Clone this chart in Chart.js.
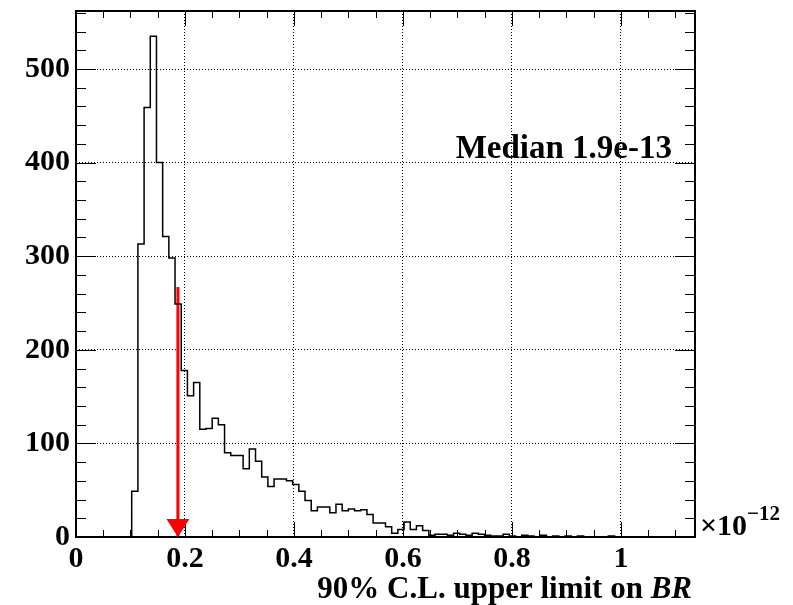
<!DOCTYPE html>
<html><head><meta charset="utf-8">
<script src="https://cdn.jsdelivr.net/npm/chart.js@4.4.0/dist/chart.umd.min.js"></script>
<style>html,body{margin:0;padding:0;background:#fff}canvas{display:block}</style>
</head><body>
<canvas id="c" width="793" height="605"></canvas>
<script>
// ---- data ----
const binLow = 0;
const binWidth = 0.01136;
const counts = [
  0, 0, 0, 0, 0, 0, 0, 0, 0, 49,
  313, 459, 535, 400, 321, 298, 249, 178, 151, 165,
  115, 116, 127, 120, 90, 87, 87, 73, 94, 81,
  64, 54, 62, 62, 60, 56, 49, 39, 28, 32,
  32, 26, 35, 28, 30, 28, 29, 24, 15, 15,
  11, 4, 8, 16, 8, 12, 7, 2, 3, 3,
  2, 4, 3, 2, 4, 3, 2, 1, 1, 3,
  1, 0, 2, 1, 0, 2, 0, 1, 0, 1,
  0, 1, 0, 0, 0, 0, 1, 0, 0, 0,
  0, 0, 0, 0, 0, 0, 0, 0, 0, 0
];
const xTickValues = [0, 0.2, 0.4, 0.6, 0.8, 1];
const xTickLabels = ['0', '0.2', '0.4', '0.6', '0.8', '1'];
const yTickValues = [0, 100, 200, 300, 400, 500];
const yTickLabels = ['0', '100', '200', '300', '400', '500'];
const xMin = 0, xMax = 1.136;
const yMin = 0, yMax = 562;
const xMinorStep = 0.05;
const yMinorStep = 20;
const medianValue = 0.187;
const arrowTopValue = 267;
const medianText = 'Median 1.9e-13';
const xTitleMain = '90% C.L. upper limit on ';
const xTitleItalic = 'BR';
const exponentBase = '\u00d710';
const exponentPower = '\u221212';

// ---- histogram outline: left edge of each bin, then closing right edge ----
const histPoints = counts.map((c, i) => ({ x: binLow + i * binWidth, y: c }));
histPoints.push({ x: binLow + counts.length * binWidth, y: 0 });

const FONT = '"Liberation Serif", "Times New Roman", serif';
Chart.defaults.font.family = FONT;
Chart.defaults.font.weight = 'bold';
Chart.defaults.font.size = 30;
Chart.defaults.color = '#000';

const deco = {
  id: 'deco',
  afterDatasetsDraw(chart) {
    const { ctx, chartArea: a, scales: { x, y } } = chart;
    ctx.save();
    ctx.strokeStyle = '#000';
    ctx.lineWidth = 1;
    const line = (x1, y1, x2, y2) => { ctx.beginPath(); ctx.moveTo(x1, y1); ctx.lineTo(x2, y2); ctx.stroke(); };
    // x ticks (bottom & top)
    for (let k = 0; k * xMinorStep <= xMax + 1e-9; k++) {
      const v = k * xMinorStep;
      const px = Math.round(x.getPixelForValue(v)) + 0.5;
      const major = xTickValues.some(t => Math.abs(t - v) < 1e-9);
      const L = major ? 15 : 7;
      line(px, a.bottom, px, a.bottom - L);
      line(px, a.top, px, a.top + L);
    }
    // y ticks (left & right)
    for (let k = 0; k * yMinorStep <= yMax + 1e-9; k++) {
      const v = k * yMinorStep;
      const py = Math.round(y.getPixelForValue(v)) + 0.5;
      const major = yTickValues.includes(v);
      const L = major ? 20 : 10;
      line(a.left, py, a.left + L, py);
      line(a.right, py, a.right - L, py);
    }
    // frame
    ctx.lineWidth = 2;
    ctx.strokeRect(a.left, a.top, a.right - a.left, a.bottom - a.top);

    // arrow head
    const mx = x.getPixelForValue(medianValue);
    const my = y.getPixelForValue(0);
    ctx.fillStyle = '#ff0000';
    ctx.beginPath();
    ctx.moveTo(mx - 11.5, my - 18);
    ctx.lineTo(mx + 11.5, my - 18);
    ctx.lineTo(mx, my);
    ctx.closePath();
    ctx.fill();

    // texts
    ctx.fillStyle = '#000';
    ctx.textBaseline = 'alphabetic';
    ctx.font = 'bold 33px ' + FONT;
    ctx.textAlign = 'right';
    ctx.fillText(medianText, a.right - 23, a.top + 147);

    // axis title
    ctx.font = 'bold italic 31px ' + FONT;
    const wI = ctx.measureText(xTitleItalic).width;
    ctx.fillText(xTitleItalic, a.right - 3, 598);
    ctx.font = 'bold 31px ' + FONT;
    ctx.fillText(xTitleMain, a.right - 3 - wI, 598);

    // exponent
    ctx.textAlign = 'left';
    ctx.font = 'bold 30px ' + FONT;
    ctx.fillText(exponentBase, a.right + 5, a.bottom - 2);
    const wB = ctx.measureText(exponentBase).width;
    ctx.font = 'bold 21px ' + FONT;
    ctx.fillText(exponentPower, a.right + 5 + wB, a.bottom - 17);
    ctx.restore();
  }
};

new Chart(document.getElementById('c'), {
  type: 'line',
  data: {
    datasets: [
      {
        data: histPoints,
        borderColor: '#000',
        borderWidth: 1.5,
        stepped: 'before',
        fill: false,
        pointRadius: 0
      },
      {
        data: [{ x: medianValue, y: arrowTopValue }, { x: medianValue, y: 0 }],
        borderColor: '#ff0000',
        borderWidth: 3,
        fill: false,
        pointRadius: 0
      }
    ]
  },
  options: {
    responsive: false,
    animation: false,
    devicePixelRatio: 1,
    layout: { padding: { left: 0, top: 11, right: 98, bottom: 0 } },
    plugins: { legend: { display: false }, tooltip: { enabled: false } },
    scales: {
      x: {
        type: 'linear',
        min: xMin, max: xMax,
        afterBuildTicks: s => { s.ticks = xTickValues.map(v => ({ value: v })); },
        afterFit: s => { s.height = 68; s.paddingLeft = 0; s.paddingRight = 0; },
        ticks: {
          callback: (v, i) => xTickLabels[i],
          maxRotation: 0, autoSkip: false, padding: 4,
          font: { size: 30, weight: 'bold', family: FONT }, color: '#000'
        },
        grid: {
          drawTicks: false,
          color: c => (c.tick && c.tick.value === 0) ? 'rgba(0,0,0,0)' : '#000',
          lineWidth: 1
        },
        border: { display: false, dash: [1, 2] }
      },
      y: {
        type: 'linear',
        min: yMin, max: yMax,
        afterBuildTicks: s => { s.ticks = yTickValues.map(v => ({ value: v })); },
        afterFit: s => { s.width = 76; s.paddingTop = 0; s.paddingBottom = 0; },
        ticks: {
          callback: (v, i) => yTickLabels[i],
          autoSkip: false, padding: 6,
          font: { size: 30, weight: 'bold', family: FONT }, color: '#000'
        },
        grid: {
          drawTicks: false,
          color: c => (c.tick && c.tick.value === 0) ? 'rgba(0,0,0,0)' : '#000',
          lineWidth: 1
        },
        border: { display: false, dash: [1, 2] }
      }
    }
  },
  plugins: [deco]
});
</script>
</body></html>
